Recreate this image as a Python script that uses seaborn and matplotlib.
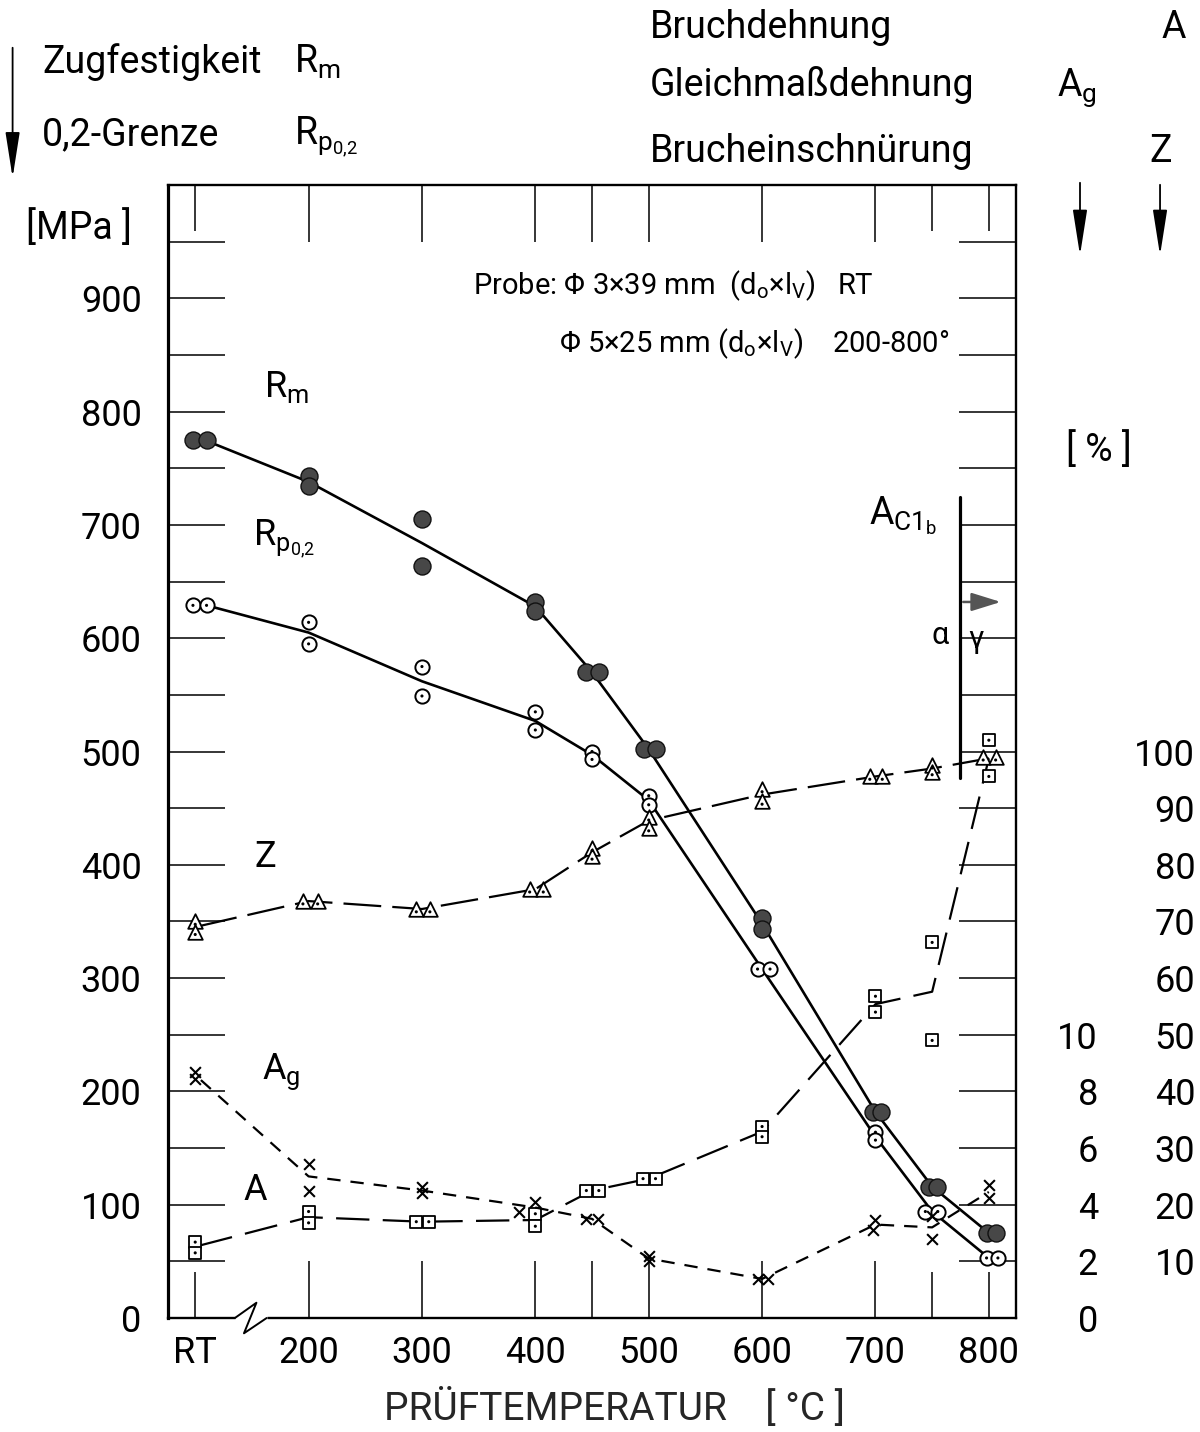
import matplotlib
matplotlib.use("Agg")
import matplotlib.pyplot as plt
import matplotlib.transforms as mtransforms
from matplotlib.ticker import MultipleLocator
import seaborn as sns

# ---- temperature axis (room temperature drawn at position 100) ----
temp_major = [200, 300, 400, 450, 500, 600, 700]
temp_major_labels = ["200", "300", "400", "", "500", "600", "700"]
temp_minor = [100, 750, 800]
temp_minor_labels = ["RT", "", "800"]

# ---- Zugfestigkeit Rm [MPa]: single specimens ----
rm_T = [98, 110, 200, 200, 300, 300, 400, 400, 445, 456, 496, 506,
        600, 600, 698, 705, 747, 754, 798, 806]
rm_val = [775, 775, 743, 734, 705, 664, 632, 624, 570, 570, 502, 502,
          353, 343, 182, 182, 116, 116, 75, 75]
rm_curve_T = [108, 200, 300, 400, 450, 500, 600, 700, 750, 800]
rm_curve = [775, 738, 684, 628, 570, 502, 348, 182, 116, 75]

# ---- 0,2-Grenze Rp0,2 [MPa] ----
rp_T = [98, 110, 200, 200, 300, 300, 400, 400, 450, 450, 500, 500,
        596, 607, 700, 700, 744, 755, 798, 808]
rp_val = [629, 629, 614, 595, 575, 549, 535, 519, 500, 493, 461, 453,
          308, 308, 164, 157, 94, 94, 53, 53]
rp_curve_T = [110, 200, 300, 400, 450, 500, 600, 700, 750, 800]
rp_curve = [629, 605, 562, 527, 497, 457, 308, 160, 94, 53]

# ---- Brucheinschnuerung Z [%] ----
z_T = [100, 100, 195, 208, 295, 307, 395, 407, 450, 450, 500, 500,
       600, 600, 695, 706, 750, 750, 795, 806]
z_val = [70.0, 68.2, 73.6, 73.6, 72.2, 72.2, 75.7, 75.7, 83.0, 81.5,
         88.4, 86.5, 93.4, 91.2, 95.6, 95.6, 97.6, 96.4, 99.0, 99.0]
z_curve_T = [104, 200, 300, 400, 450, 500, 600, 700, 750, 800]
z_curve = [69.2, 73.6, 72.2, 75.7, 82.2, 87.8, 92.4, 95.6, 97.0, 98.8]

# ---- Bruchdehnung A [%] ----
a_T = [100, 100, 200, 200, 295, 306, 400, 400, 445, 456, 495, 506,
       600, 600, 700, 700, 750, 750, 800, 800]
a_val = [13.4, 11.5, 18.8, 16.8, 17.0, 17.0, 18.4, 16.2, 22.5, 22.5,
         24.6, 24.6, 33.8, 32.0, 56.8, 54.0, 66.3, 49.0, 102.0, 95.6]
a_curve_T = [104, 200, 300, 400, 450, 500, 600, 700, 750, 800]
a_curve = [12.8, 17.8, 17.0, 17.3, 22.5, 24.6, 32.9, 55.4, 57.6, 98.8]

# ---- Gleichmassdehnung Ag [%] ----
ag_T = [100, 100, 200, 200, 300, 300, 400, 386, 445, 455, 500, 500,
        596, 605, 700, 698, 750, 750, 800, 800]
ag_val = [8.7, 8.45, 5.45, 4.5, 4.63, 4.4, 4.1, 3.75, 3.5, 3.5, 2.2, 2.0,
          1.38, 1.38, 3.47, 3.1, 3.6, 2.8, 4.7, 4.24]
ag_curve_T = [105, 200, 300, 400, 450, 500, 600, 700, 750, 800]
ag_curve = [8.4, 5.0, 4.5, 3.9, 3.5, 2.1, 1.38, 3.3, 3.2, 4.45]

# ---- right-hand scales ----
ag_ticks = [0, 2, 4, 6, 8, 10]
z_ticks = [10, 20, 30, 40, 50, 60, 70, 80, 90, 100]

# transformation temperature Ac1b
ac1b_T = 775

sns.set_theme(style="ticks")
plt.rcParams["font.family"] = ["Roboto", "DejaVu Sans"]
plt.rcParams["mathtext.default"] = "regular"
plt.rcParams["axes.edgecolor"] = "black"
plt.rcParams["xtick.color"] = "black"
plt.rcParams["ytick.color"] = "black"
plt.rcParams["text.color"] = "black"

FS = 26     # tick labels and curve labels
HS = 27     # header lines
fig = plt.figure(figsize=(12, 14.32), dpi=100)
ax = fig.add_axes([0.14, 0.0796, 0.7067, 0.7912])
ax_z = ax.twinx()
ax_ag = ax.twinx()

ax.set_xlim(76, 824)
ax.set_ylim(0, 1000)
ax_z.set_ylim(0, 200)
ax_ag.set_ylim(0, 40)


def dot_inside(axis, x, y, dy=0.0):
    sns.scatterplot(x=x, y=[v + dy for v in y], ax=axis, marker="o", s=5,
                    color="black", edgecolor="none", zorder=6, legend=False)


# strength curves (solid)
sns.lineplot(x=rm_curve_T, y=rm_curve, ax=ax, color="black", lw=1.9,
             sort=False, zorder=3)
sns.lineplot(x=rp_curve_T, y=rp_curve, ax=ax, color="black", lw=1.9,
             sort=False, zorder=3)

sns.scatterplot(x=rm_T, y=rm_val, ax=ax, marker="o", s=150, color="#474747",
                edgecolor="#111111", linewidth=1.0, zorder=5, legend=False)
sns.scatterplot(x=rp_T, y=rp_val, ax=ax, marker="o", s=105, color="white",
                edgecolor="black", linewidth=1.4, zorder=5, legend=False)
dot_inside(ax, rp_T, rp_val)

# ductility curves (dashed)
sns.lineplot(x=z_curve_T, y=z_curve, ax=ax_z, color="black", lw=1.6,
             sort=False, zorder=3)
ax_z.lines[-1].set_dashes((17, 5))
sns.lineplot(x=a_curve_T, y=a_curve, ax=ax_z, color="black", lw=1.6,
             sort=False, zorder=3)
ax_z.lines[-1].set_dashes((15, 6))
sns.lineplot(x=ag_curve_T, y=ag_curve, ax=ax_ag, color="black", lw=1.6,
             sort=False, zorder=3)
ax_ag.lines[-1].set_dashes((6, 4.5))

sns.scatterplot(x=z_T, y=z_val, ax=ax_z, marker="^", s=110, color="white",
                edgecolor="black", linewidth=1.3, zorder=5, legend=False)
dot_inside(ax_z, z_T, z_val, dy=-0.5)
sns.scatterplot(x=a_T, y=a_val, ax=ax_z, marker="s", s=80, color="white",
                edgecolor="black", linewidth=1.3, zorder=5, legend=False)
dot_inside(ax_z, a_T, a_val)
sns.scatterplot(x=ag_T, y=ag_val, ax=ax_ag, marker="x", s=60, color="black",
                linewidth=1.5, zorder=5, legend=False)

# ---- ticks ----
ax.set_xticks(temp_major, labels=temp_major_labels)
ax.set_xticks(temp_minor, labels=temp_minor_labels, minor=True)
ax.tick_params(axis="x", which="major", direction="in", length=41, width=1.1,
               top=True, bottom=True, pad=12, labelsize=FS)
ax.tick_params(axis="x", which="minor", direction="in", length=33, width=1.1,
               top=True, bottom=True, pad=12, labelsize=FS)
ax.set_yticks(range(0, 1000, 100))
ax.yaxis.set_minor_locator(MultipleLocator(50))
ax.tick_params(axis="y", which="both", direction="in", length=41, width=1.1,
               left=True, right=True, labelleft=True, labelright=False,
               pad=19, labelsize=FS)

ax_ag.set_yticks(ag_ticks)
ax_ag.tick_params(axis="y", which="both", length=0, pad=59, labelsize=FS,
                  right=True, labelright=True)
plt.setp(ax_ag.get_yticklabels(), ha="right")
ax_z.set_yticks(z_ticks)
ax_z.tick_params(axis="y", which="both", length=0, pad=129, labelsize=FS,
                 right=True, labelright=True)
plt.setp(ax_z.get_yticklabels(), ha="right")
for a in (ax_z, ax_ag):
    a.set_ylabel("")
    for s in a.spines.values():
        s.set_visible(False)
ax.set_ylabel("")
ax.set_xlabel("PRÜFTEMPERATUR    [ °C ]", fontsize=28)
ax.xaxis.set_label_coords(0.527, -0.062)

for side, s in ax.spines.items():
    s.set_visible(True)
    s.set_color("black")
    s.set_linewidth(2.3 if side == "left" else 1.7)

# axis break on the bottom spine between RT and 200
trans = mtransforms.blended_transform_factory(ax.transData, ax.transAxes)
ax.plot([135, 163], [0, 0], color="white", lw=5, transform=trans,
        clip_on=False, zorder=7, solid_capstyle="butt")
ax.plot([135, 154, 143, 163], [0, 0.0135, -0.0135, 0], color="black", lw=1.4,
        transform=trans, clip_on=False, zorder=8)

# Ac1b transformation line
ax.plot([ac1b_T, ac1b_T], [477, 725], color="black", lw=2.3, zorder=4)
ax.annotate("", xy=(813, 632), xytext=(ac1b_T, 632),
            arrowprops=dict(arrowstyle="-|>,head_length=0.9,head_width=0.28",
                            color="#555555", lw=1.8, mutation_scale=20))
ax.text(694, 708, "A$_{C1_{b}}$", fontsize=27, va="center", ha="left")
ax.text(757, 602, "α", fontsize=22, va="center", ha="center")
ax.text(789, 599, "γ", fontsize=22, va="center", ha="center")

# curve labels
ax.text(161, 822, "R$_{m}$", fontsize=FS, va="center", ha="left")
ax.text(151, 688, "R$_{p_{0{,}2}}$", fontsize=FS, va="center", ha="left")
ax.text(152, 407, "Z", fontsize=FS, va="center", ha="left")
ax.text(159, 217, "A$_{g}$", fontsize=FS, va="center", ha="left")
ax.text(143, 113, "A", fontsize=FS, va="center", ha="left")

# specimen note
ax.text(345, 911, "Probe: Φ 3×39 mm  (d$_{o}$×l$_{V}$)   RT", fontsize=21,
        va="center", ha="left")
ax.text(421, 860, "Φ 5×25 mm (d$_{o}$×l$_{V}$)    200-800°", fontsize=21,
        va="center", ha="left")

# ---- headers ----
fig.text(0.035, 0.9567, "Zugfestigkeit", fontsize=HS, va="center")
fig.text(0.245, 0.9567, "R$_{m}$", fontsize=HS, va="center")
fig.text(0.035, 0.9057, "0,2-Grenze", fontsize=HS, va="center")
fig.text(0.245, 0.9040, "R$_{p_{0{,}2}}$", fontsize=HS, va="center")
fig.text(0.022, 0.8408, "[MPa ]", fontsize=HS, va="center")
fig.text(0.5417, 0.9811, "Bruchdehnung", fontsize=HS, va="center")
fig.text(0.968, 0.9811, "A", fontsize=HS, va="center")
fig.text(0.5417, 0.9406, "Gleichmaßdehnung", fontsize=HS, va="center")
fig.text(0.881, 0.9390, "A$_{g}$", fontsize=HS, va="center")
fig.text(0.5417, 0.8939, "Brucheinschnürung", fontsize=HS, va="center")
fig.text(0.958, 0.8939, "Z", fontsize=HS, va="center")
fig.text(0.888, 0.6858, "[ % ]", fontsize=HS, va="center")

arrow_style = dict(arrowstyle="-|>,head_length=1.4,head_width=0.22",
                   color="black", lw=1.3, mutation_scale=20)
for x0, y0, y1 in [(0.0105, 0.9686, 0.874), (0.9, 0.8743, 0.8198),
                   (0.9667, 0.8729, 0.8198)]:
    ax.annotate("", xy=(x0, y1), xytext=(x0, y0), xycoords="figure fraction",
                textcoords="figure fraction", arrowprops=arrow_style)

fig.savefig("out.png", dpi=100, facecolor="white")
